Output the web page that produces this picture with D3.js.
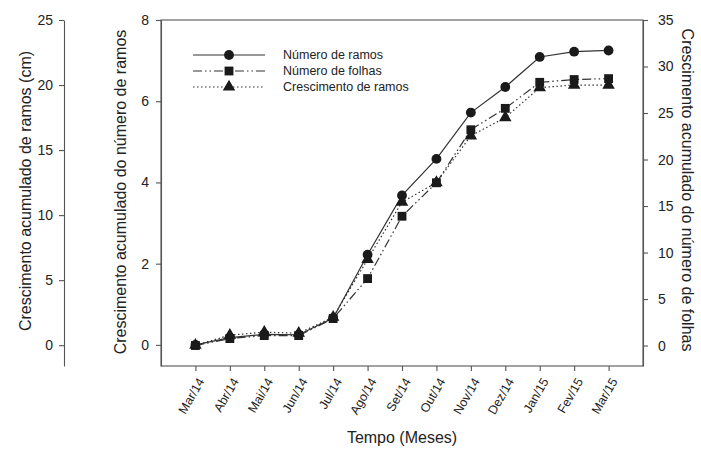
<!DOCTYPE html>
<html>
<head>
<meta charset="utf-8">
<script src="https://cdn.jsdelivr.net/npm/d3@7"></script>
<style>
  html, body { margin: 0; padding: 0; background: #fff; }
  svg { display: block; font-family: "Liberation Sans", Arial, sans-serif; }
</style>
</head>
<body>
<svg id="chart" width="701" height="450"></svg>
<script>
// Months of observation
const months = ["Mar/14","Abr/14","Mai/14","Jun/14","Jul/14","Ago/14","Set/14","Out/14","Nov/14","Dez/14","Jan/15","Fev/15","Mar/15"];

// Cumulative number of branches (inner left axis)
const ramos = [0, 0.18, 0.26, 0.25, 0.66, 2.22, 3.68, 4.58, 5.72, 6.35, 7.09, 7.22, 7.25];
// Cumulative number of leaves (right axis)
const folhas = [0, 0.75, 1.07, 1.07, 2.9, 7.2, 13.9, 17.5, 23.2, 25.5, 28.3, 28.6, 28.7];
// Cumulative branch growth in cm (outer left axis)
const crescimento = [0, 0.77, 1.0, 0.92, 2.15, 6.6, 11.0, 12.5, 16.1, 17.5, 19.8, 20.0, 20.0];

// Tick values
const ramosTicks = [0, 2, 4, 6, 8];
const cmTicks = [0, 5, 10, 15, 20, 25];
const folhasTicks = [0, 5, 10, 15, 20, 25, 30, 35];

const svg = d3.select("#chart");
const ink = "#222";
const axisCol = "#555";

const plotL = 161, plotR = 643, plotT = 20, plotB = 366;

const x = d3.scaleLinear().domain([-1, months.length]).range([plotL, plotR]);
const yRamos = d3.scaleLinear().domain([-0.52, 8]).range([plotB, plotT]);
const yCm = d3.scaleLinear().domain([-1.6, 25]).range([plotB, plotT]);
const yFolhas = d3.scaleLinear().domain([-2.2, 35]).range([plotB, plotT]);

function styleAxis(g, fontSize) {
  g.selectAll("path, line").attr("stroke", axisCol).attr("stroke-width", 1.1);
  g.selectAll("text").attr("fill", ink).style("font-size", fontSize + "px")
    .style("font-family", "'Liberation Sans', Arial, sans-serif");
}

// Frame around plotting area
svg.append("rect")
  .attr("x", plotL).attr("y", plotT)
  .attr("width", plotR - plotL).attr("height", plotB - plotT)
  .attr("fill", "none").attr("stroke", axisCol).attr("stroke-width", 1.1);

// Outer left axis: growth (cm)
svg.append("g").attr("transform", "translate(64,0)")
  .call(d3.axisLeft(yCm).tickValues(cmTicks).tickSize(5).tickSizeOuter(0).tickPadding(6))
  .call(g => styleAxis(g, 14));

// Inner left axis: number of branches
svg.append("g").attr("transform", `translate(${plotL},0)`)
  .call(d3.axisLeft(yRamos).tickValues(ramosTicks).tickSize(5).tickSizeOuter(0).tickPadding(7))
  .call(g => styleAxis(g, 14));

// Right axis: number of leaves
svg.append("g").attr("transform", `translate(${plotR},0)`)
  .call(d3.axisRight(yFolhas).tickValues(folhasTicks).tickSize(5).tickSizeOuter(0).tickPadding(10))
  .call(g => styleAxis(g, 14));

// Bottom axis: months
const xg = svg.append("g").attr("transform", `translate(0,${plotB})`)
  .call(d3.axisBottom(x).tickValues(d3.range(months.length)).tickFormat(i => months[i]).tickSize(5).tickSizeOuter(0));
styleAxis(xg, 12.5);
xg.select(".domain").remove();
xg.selectAll("text")
  .attr("text-anchor", "end")
  .attr("dy", "0.35em")
  .attr("transform", "translate(5,13) rotate(-60)")
  .attr("y", 0).attr("x", 0);

// Axis titles
svg.append("text")
  .attr("transform", "translate(31,191) rotate(-90)")
  .attr("text-anchor", "middle").attr("fill", ink).style("font-size", "16px")
  .text("Crescimento acumulado de ramos (cm)");
svg.append("text")
  .attr("transform", "translate(126,192) rotate(-90)")
  .attr("text-anchor", "middle").attr("fill", ink).style("font-size", "16px")
  .text("Crescimento acumulado do número de ramos");
svg.append("text")
  .attr("transform", "translate(682,190) rotate(90)")
  .attr("text-anchor", "middle").attr("fill", ink).style("font-size", "16px")
  .text("Crescimento acumulado do número de folhas");
svg.append("text")
  .attr("x", (plotL + plotR) / 2).attr("y", 443)
  .attr("text-anchor", "middle").attr("fill", ink).style("font-size", "16px")
  .text("Tempo (Meses)");

// Series definitions
const series = [
  { name: "Número de ramos", values: ramos, y: yRamos, dash: null, symbol: d3.symbolCircle, size: 76 },
  { name: "Número de folhas", values: folhas, y: yFolhas, dash: "9,3,1.5,3,1.5,3", symbol: d3.symbolSquare, size: 78 },
  { name: "Crescimento de ramos", values: crescimento, y: yCm, dash: "1.5,2.5", symbol: d3.symbolTriangle, size: 68 }
];

const markCol = "#1a1a1a";

series.forEach(s => {
  const line = d3.line().x((d, i) => x(i)).y(d => s.y(d));
  svg.append("path")
    .datum(s.values)
    .attr("d", line)
    .attr("fill", "none")
    .attr("stroke", "#333")
    .attr("stroke-width", 1.2)
    .attr("stroke-dasharray", s.dash);
});

series.forEach(s => {
  svg.append("g").selectAll("path")
    .data(s.values)
    .join("path")
    .attr("d", d3.symbol().type(s.symbol).size(s.size))
    .attr("transform", (d, i) => `translate(${x(i)},${s.y(d)})`)
    .attr("fill", markCol);
});

// Legend
const legend = svg.append("g");
const legendRows = [55, 71, 87];
series.forEach((s, k) => {
  const yy = legendRows[k];
  legend.append("line")
    .attr("x1", 193).attr("x2", 265).attr("y1", yy).attr("y2", yy)
    .attr("stroke", "#333").attr("stroke-width", 1.2)
    .attr("stroke-dasharray", s.dash);
  legend.append("path")
    .attr("d", d3.symbol().type(s.symbol).size(s.size))
    .attr("transform", `translate(229,${yy})`)
    .attr("fill", markCol);
  legend.append("text")
    .attr("x", 283).attr("y", yy).attr("dy", "0.35em")
    .attr("fill", ink).style("font-size", "12.5px")
    .text(s.name);
});
</script>
</body>
</html>
